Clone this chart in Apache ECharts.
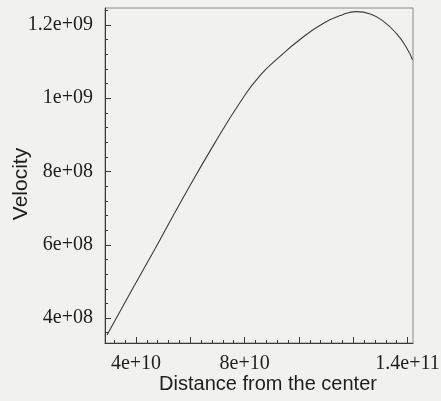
<!DOCTYPE html>
<html>
<head>
<meta charset="utf-8">
<script src="https://cdn.jsdelivr.net/npm/echarts@6/dist/echarts.min.js"></script>
<style>
  html, body { margin: 0; padding: 0; background: #f1f1f0; }
  #container1 { width: 441px; height: 401px; }
</style>
</head>
<body>
<div id="container1"></div>
<script>
// distance from the center (x) and velocity (y)
var distance = [2.934e10, 3.89e10, 4.698e10, 5.691e10, 6.904e10, 7.897e10, 8.558e10,
    9.293e10, 1.0028e11, 1.0874e11, 1.1609e11, 1.2124e11, 1.2602e11, 1.308e11,
    1.3594e11, 1.3962e11, 1.4183e11];
var velocity = [3.536e8, 4.82e8, 5.885e8, 7.224e8, 8.781e8, 9.956e8, 1.0611e9,
    1.1131e9, 1.1595e9, 1.2032e9, 1.2278e9, 1.236e9, 1.2305e9, 1.2114e9,
    1.1759e9, 1.1376e9, 1.1049e9];

var xMajorTicks = [4e10, 6e10, 8e10, 1e11, 1.2e11, 1.4e11];
var xLabels = [4e10, 8e10, 1.4e11];
var yMajorTicks = [4e8, 6e8, 8e8, 1e9, 1.2e9];
var yLabels = [4e8, 6e8, 8e8, 1e9, 1.2e9];

// minor ticks: 5 per major step
var xMinorTicks = [];
for (var i = 0; i <= 27; i++) xMinorTicks.push(3.2e10 + i * 4e9);
var yMinorTicks = [];
for (var j = 0; j <= 22; j++) yMinorTicks.push(3.6e8 + j * 4e7);

var xMin = 2.86e10, xMax = 1.42e11;
var yMin = 3.32e8, yMax = 1.246e9;

// gnuplot style "%g" labels: 4e+10, 1.2e+09
function fmt(v) {
    var s = Number(v).toExponential();
    var parts = s.split('e');
    var m = parseFloat(parts[0]).toString();
    var ex = parseInt(parts[1], 10);
    var sign = ex < 0 ? '-' : '+';
    var a = Math.abs(ex);
    return m + 'e' + sign + (a < 10 ? '0' + a : a);
}

var seriesData = distance.map(function (d, k) { return [d, velocity[k]]; });

var dom = document.getElementById("container1");
var myChart = echarts.init(dom, null, {renderer: 'canvas'});
var tickFont = {fontFamily: 'Liberation Serif', fontSize: 20, color: '#1e1e1e'};
var nameFont = {fontFamily: 'Liberation Sans', fontSize: 20, color: '#1e1e1e'};

option = {
    backgroundColor: '#f1f1f0',
    animation: false,
    grid: {
        left: 105,
        top: 8,
        right: 28,
        bottom: 58,
        outerBoundsMode: 'none',
        containLabel: false,
        show: true,
        borderColor: '#8a8a8a',
        borderWidth: 1,
        backgroundColor: 'transparent'
    },
    xAxis: [
        {
            type: 'value',
            min: xMin,
            max: xMax,
            position: 'bottom',
            axisLine: {show: true, lineStyle: {color: '#3a3a3a', width: 1}},
            axisTick: {show: true, inside: true, length: 3, customValues: xMinorTicks,
                lineStyle: {color: '#3a3a3a'}},
            axisLabel: {show: false},
            splitLine: {show: false}
        },
        {
            type: 'value',
            min: xMin,
            max: xMax,
            position: 'bottom',
            name: 'Distance from the center',
            nameLocation: 'middle',
            nameGap: 31,
            nameMoveOverlap: false,
            nameTextStyle: Object.assign({padding: [0, 0, 0, 18]}, nameFont),
            axisLine: {show: false},
            axisTick: {show: true, inside: true, length: 6, customValues: xMajorTicks,
                lineStyle: {color: '#3a3a3a'}},
            axisLabel: Object.assign({show: true, margin: 11, customValues: xLabels,
                formatter: fmt}, tickFont),
            splitLine: {show: false}
        }
    ],
    yAxis: [
        {
            type: 'value',
            min: yMin,
            max: yMax,
            position: 'left',
            axisLine: {show: true, lineStyle: {color: '#3a3a3a', width: 1}},
            axisTick: {show: true, inside: true, length: 3, customValues: yMinorTicks,
                lineStyle: {color: '#3a3a3a'}},
            axisLabel: {show: false},
            splitLine: {show: false}
        },
        {
            type: 'value',
            min: yMin,
            max: yMax,
            position: 'left',
            name: 'Velocity',
            nameLocation: 'middle',
            nameGap: 73,
            nameRotate: 90,
            nameMoveOverlap: false,
            nameTextStyle: Object.assign({padding: [0, 17, 0, 0]}, nameFont, {fontSize: 21}),
            axisLine: {show: false},
            axisTick: {show: true, inside: true, length: 6, customValues: yMajorTicks,
                lineStyle: {color: '#3a3a3a'}},
            axisLabel: Object.assign({show: true, margin: 12, customValues: yLabels,
                formatter: fmt}, tickFont),
            splitLine: {show: false}
        }
    ],
    series: [
        {
            name: 'Velocity',
            type: 'line',
            xAxisIndex: 0,
            yAxisIndex: 0,
            smooth: 0.5,
            showSymbol: false,
            lineStyle: {color: '#3c3c3c', width: 1.1},
            data: seriesData
        }
    ]
};

if (option && typeof option === "object") {
    myChart.setOption(option, true);
}
</script>
</body>
</html>
